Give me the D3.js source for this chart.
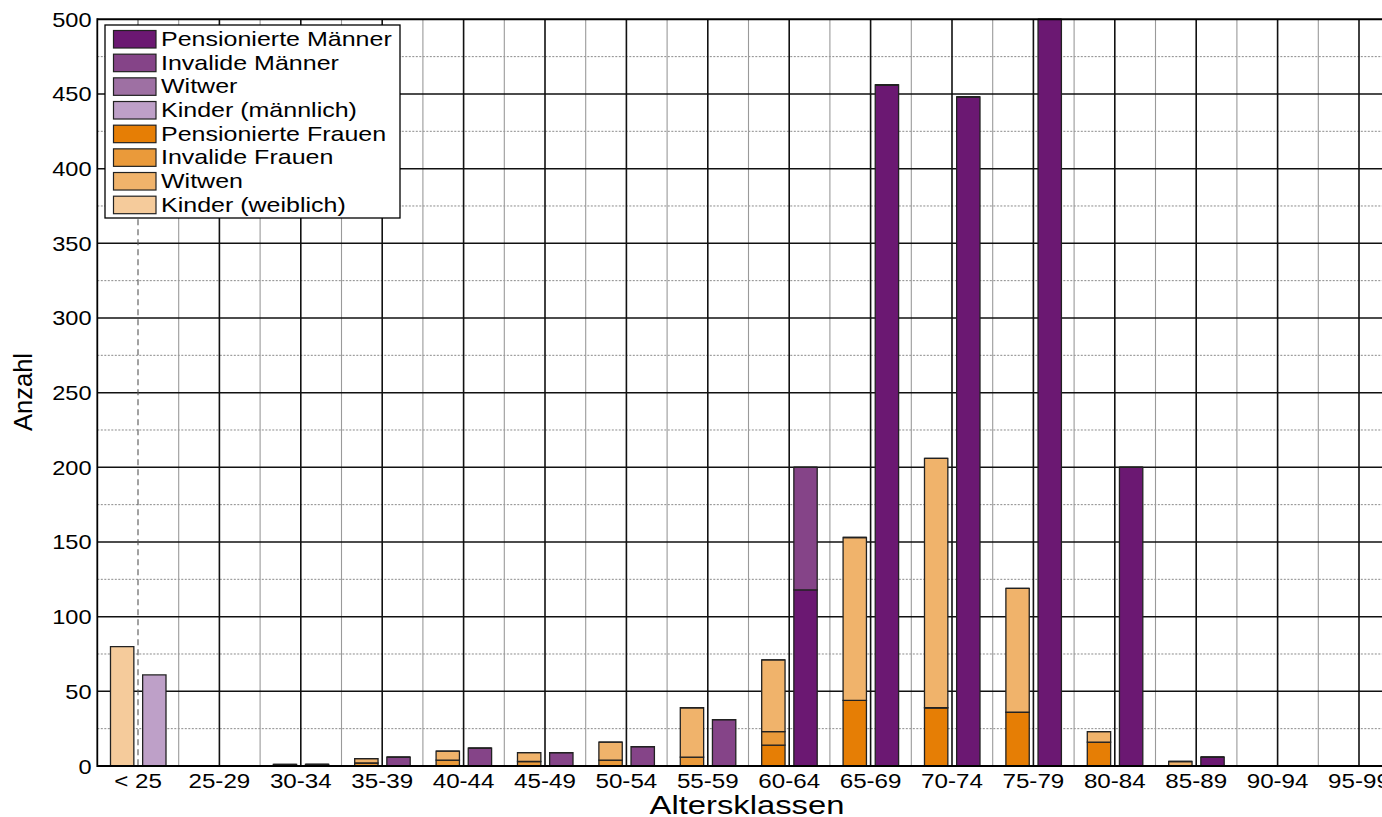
<!DOCTYPE html>
<html>
<head>
<meta charset="utf-8">
<script src="https://cdn.jsdelivr.net/npm/d3@7"></script>
<style>
  html, body { margin: 0; padding: 0; background: #fff; overflow: hidden; }
  svg { display: block; font-family: "Liberation Sans", Arial, Helvetica, sans-serif; }
</style>
</head>
<body>
<svg id="chart" width="1382" height="817"></svg>
<script>
// ---- Data ----
const categories = ["< 25", "25-29", "30-34", "35-39", "40-44", "45-49", "50-54", "55-59",
                    "60-64", "65-69", "70-74", "75-79", "80-84", "85-89", "90-94", "95-99"];
const yTicks = [0, 50, 100, 150, 200, 250, 300, 350, 400, 450, 500];

const pensionierteMaenner = [0, 0, 0, 0, 0, 0, 0, 0, 118, 456, 448, 500, 200, 6, 0, 0];
const invalideMaenner     = [0, 0, 1, 6, 12, 9, 13, 31, 82, 0, 0, 0, 0, 0, 0, 0];
const witwer              = [0, 0, 0, 0, 0, 0, 0, 0, 0, 0, 0, 0, 0, 0, 0, 0];
const kinderMaennlich     = [61, 0, 0, 0, 0, 0, 0, 0, 0, 0, 0, 0, 0, 0, 0, 0];
const pensionierteFrauen  = [0, 0, 0, 0, 0, 0, 0, 0, 14, 44, 39, 36, 16, 0, 0, 0];
const invalideFrauen      = [0, 0, 0, 2, 4, 3, 4, 6, 9, 0, 0, 0, 0, 0, 0, 0];
const witwen              = [0, 0, 1, 3, 6, 6, 12, 33, 48, 109, 167, 83, 7, 3, 0, 0];
const kinderWeiblich      = [80, 0, 0, 0, 0, 0, 0, 0, 0, 0, 0, 0, 0, 0, 0, 0];

const seriesNames = ["Pensionierte Männer", "Invalide Männer", "Witwer", "Kinder (männlich)",
                     "Pensionierte Frauen", "Invalide Frauen", "Witwen", "Kinder (weiblich)"];
const seriesColors = ["#6b1872", "#854488", "#9e70a3", "#bea0c8",
                      "#e67e05", "#ea9a3a", "#f0b36b", "#f5cb9b"];
const maleKeys = seriesNames.slice(0, 4);
const femaleKeys = seriesNames.slice(4);
const seriesValues = [pensionierteMaenner, invalideMaenner, witwer, kinderMaennlich,
                      pensionierteFrauen, invalideFrauen, witwen, kinderWeiblich];

// table for d3.stack
const rows = categories.map((c, i) => {
  const r = { cat: c };
  seriesNames.forEach((n, k) => r[n] = seriesValues[k][i]);
  return r;
});
const color = d3.scaleOrdinal().domain(seriesNames).range(seriesColors);

// ---- Layout ----
const svg = d3.select("#chart");
const plotLeft = 97.3, plotTop = 19.3, plotBottom = 766, step = 81.4;
const x = d3.scaleBand().domain(categories)
  .range([plotLeft, plotLeft + step * categories.length]).padding(0);
const y = d3.scaleLinear().domain([0, 500]).range([plotBottom, plotTop]);
const bw = x.bandwidth();
const plotRight = 1390;

svg.append("defs").append("clipPath").attr("id", "plotclip")
  .append("rect").attr("x", plotLeft).attr("y", plotTop - 1)
  .attr("width", plotRight - plotLeft).attr("height", plotBottom - plotTop + 1);

const plot = svg.append("g").attr("clip-path", "url(#plotclip)");

// ---- Grid ----
const minorY = d3.range(25, 500, 50);
plot.append("g").selectAll("line").data(minorY).join("line")
  .attr("x1", plotLeft).attr("x2", plotRight)
  .attr("y1", d => y(d)).attr("y2", d => y(d))
  .attr("stroke", "#8a8a8a").attr("stroke-width", 1).attr("stroke-dasharray", "2,1.5");
plot.append("g").selectAll("line").data(categories.slice(1)).join("line")
  .attr("x1", d => x(d)).attr("x2", d => x(d))
  .attr("y1", plotTop).attr("y2", plotBottom)
  .attr("stroke", "#9a9a9a").attr("stroke-width", 1.1);
plot.append("g").selectAll("line").data(yTicks.filter(v => v > 0 && v < 500)).join("line")
  .attr("x1", plotLeft).attr("x2", plotRight)
  .attr("y1", d => y(d)).attr("y2", d => y(d))
  .attr("stroke", "#111").attr("stroke-width", 1.5);
plot.append("g").selectAll("line").data(categories).join("line")
  .attr("x1", d => x(d) + bw / 2).attr("x2", d => x(d) + bw / 2)
  .attr("y1", plotTop).attr("y2", plotBottom)
  .attr("stroke", (d, i) => i === 0 ? "#555" : "#111")
  .attr("stroke-width", (d, i) => i === 0 ? 1.1 : 1.6)
  .attr("stroke-dasharray", (d, i) => i === 0 ? "6,4" : null);

// ---- Bars ----
const barW = bw * 0.287;
const femaleOff = bw * 0.162;
const maleOff = bw * 0.557;
function drawStack(keys, off) {
  const stacked = d3.stack().keys(keys)(rows);
  const g = plot.append("g");
  stacked.forEach(layer => {
    g.append("g").selectAll("path").data(layer).join("path")
      .attr("d", d => {
        const x0 = x(d.data.cat) + off;
        const yT = y(Math.min(d[1], 500)), yB = y(Math.min(d[0], 500));
        return `M${x0},${yB}V${yT}H${x0 + barW}V${yB}Z`;
      })
      .attr("fill", color(layer.key))
      .attr("stroke", "#222").attr("stroke-width", 1.3);
  });
}
drawStack(femaleKeys, femaleOff);
drawStack(maleKeys, maleOff);

// ---- Frame / axes ----
svg.append("line").attr("x1", plotLeft).attr("x2", plotRight).attr("y1", plotTop).attr("y2", plotTop)
  .attr("stroke", "#000").attr("stroke-width", 2);
svg.append("line").attr("x1", plotLeft).attr("x2", plotRight).attr("y1", plotBottom).attr("y2", plotBottom)
  .attr("stroke", "#000").attr("stroke-width", 1.8);
svg.append("line").attr("x1", plotLeft).attr("x2", plotLeft).attr("y1", plotTop - 1).attr("y2", plotBottom + 1)
  .attr("stroke", "#000").attr("stroke-width", 1.8);

const xAxis = svg.append("g").attr("transform", `translate(0,${plotBottom})`)
  .call(d3.axisBottom(x).tickSize(0).tickPadding(0));
xAxis.select(".domain").remove();
xAxis.selectAll("text")
  .attr("y", 22).attr("dy", 0)
  .attr("font-size", 19.5).attr("fill", "#000")
  .attr("font-family", "\"Liberation Sans\", Arial, sans-serif")
  .attr("transform", "scale(1.24,1)");

const yAxis = svg.append("g").attr("transform", `translate(${plotLeft},0)`)
  .call(d3.axisLeft(y).tickValues(yTicks).tickSize(0).tickPadding(0));
yAxis.select(".domain").remove();
yAxis.selectAll("text")
  .attr("x", -4.9).attr("dy", "0.35em")
  .attr("font-size", 20).attr("fill", "#000")
  .attr("font-family", "\"Liberation Sans\", Arial, sans-serif")
  .attr("transform", "scale(1.18,1)");

svg.append("text").attr("transform", "translate(747,814) scale(1.26,1)")
  .attr("text-anchor", "middle").attr("font-size", 26).text("Altersklassen");
svg.append("text").attr("transform", "translate(32,392) rotate(-90)")
  .attr("text-anchor", "middle").attr("font-size", 25.5).text("Anzahl");

// ---- Legend ----
const lg = svg.append("g");
lg.append("rect").attr("x", 105).attr("y", 25).attr("width", 295).attr("height", 193)
  .attr("fill", "#fff").attr("stroke", "#000").attr("stroke-width", 1.3);
const pitch = 23.67;
const items = lg.selectAll("g.item").data(seriesNames).join("g")
  .attr("transform", (d, i) => `translate(0,${30.5 + i * pitch})`);
items.append("rect").attr("x", 113.5).attr("y", 0).attr("width", 42.5).attr("height", 17.5)
  .attr("fill", d => color(d)).attr("stroke", "#222").attr("stroke-width", 1.2);
items.append("text").attr("transform", "translate(161,15.6) scale(1.22,1)")
  .attr("font-size", 20.5).attr("fill", "#000").text(d => d);
</script>
</body>
</html>
